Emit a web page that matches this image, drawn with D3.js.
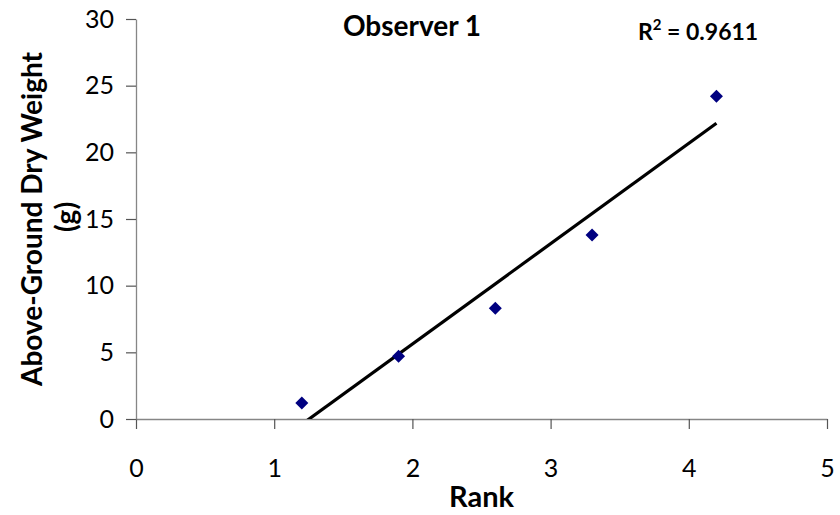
<!DOCTYPE html>
<html>
<head>
<meta charset="utf-8">
<script src="https://cdn.jsdelivr.net/npm/d3@7"></script>
<style>
  html, body { margin: 0; padding: 0; background: #fff; }
  svg { display: block; font-family: Lato, "Open Sans", sans-serif; }
</style>
</head>
<body>
<svg id="chart" width="840" height="515"></svg>
<script>
// Observer 1: rank assigned vs. measured above-ground dry weight
const rank = [1.2, 1.9, 2.6, 3.3, 4.2];
const dryWeight = [1.2, 4.7, 8.3, 13.8, 24.2];
const xTicks = [0, 1, 2, 3, 4, 5];
const yTicks = [0, 5, 10, 15, 20, 25, 30];
const rSquaredLabel = "0.9611";

const svg = d3.select("#chart");
const plot = { left: 136, right: 827, top: 19, bottom: 419 };

const x = d3.scaleLinear().domain([0, 5]).range([plot.left, plot.right]);
const y = d3.scaleLinear().domain([0, 30]).range([plot.bottom, plot.top]);

// Least-squares trendline through the observations
const mx = d3.mean(rank), my = d3.mean(dryWeight);
const sxy = d3.sum(rank, (v, i) => (v - mx) * (dryWeight[i] - my));
const sxx = d3.sum(rank, v => (v - mx) * (v - mx));
const slope = sxy / sxx;
const intercept = my - slope * mx;

// Axes
const xAxis = svg.append("g")
  .attr("transform", `translate(0,${plot.bottom})`)
  .call(d3.axisBottom(x).tickValues(xTicks).tickFormat(d3.format("d"))
    .tickSize(10).tickSizeOuter(0).tickPadding(29));
const yAxis = svg.append("g")
  .attr("transform", `translate(${plot.left},0)`)
  .call(d3.axisLeft(y).tickValues(yTicks).tickFormat(d3.format("d"))
    .tickSize(10).tickSizeOuter(0).tickPadding(12));

[xAxis, yAxis].forEach(g => {
  g.select(".domain").attr("stroke", "#868686").attr("stroke-width", 1.3);
  g.selectAll(".tick line").attr("stroke", "#555").attr("stroke-width", 1.2);
  g.selectAll(".tick text")
    .attr("fill", "#000")
    .style("font-family", "Lato, 'Open Sans', sans-serif")
    .style("font-size", "25px");
});
xAxis.selectAll(".tick text").attr("dy", "0em").attr("y", 477 - plot.bottom);

// Trendline, clipped to the plot area
svg.append("clipPath").attr("id", "plotClip")
  .append("rect")
  .attr("x", plot.left).attr("y", plot.top)
  .attr("width", plot.right - plot.left).attr("height", plot.bottom - plot.top);

const x0 = d3.min(rank), x1 = d3.max(rank);
svg.append("line")
  .attr("clip-path", "url(#plotClip)")
  .attr("x1", x(x0)).attr("y1", y(slope * x0 + intercept))
  .attr("x2", x(x1)).attr("y2", y(slope * x1 + intercept))
  .attr("stroke", "#000").attr("stroke-width", 3.2);

// Markers
const diamond = 6.5;
svg.append("g").selectAll("path")
  .data(rank.map((r, i) => [r, dryWeight[i]]))
  .join("path")
  .attr("transform", d => `translate(${x(d[0])},${y(d[1])})`)
  .attr("d", `M0,${-diamond}L${diamond},0L0,${diamond}L${-diamond},0Z`)
  .attr("fill", "#000080");

// Titles
svg.append("text")
  .attr("x", 412).attr("y", 36)
  .attr("text-anchor", "middle")
  .style("font-size", "28px").style("font-weight", "bold")
  .text("Observer 1");

const r2 = svg.append("text")
  .attr("x", 638).attr("y", 40)
  .style("font-size", "23px").style("font-weight", "bold");
r2.append("tspan").text("R");
r2.append("tspan").attr("dy", -10).style("font-size", "15px").text("2");
r2.append("tspan").attr("dy", 10).text(" = " + rSquaredLabel);

svg.append("text")
  .attr("x", (plot.left + plot.right) / 2).attr("y", 507)
  .attr("text-anchor", "middle")
  .style("font-size", "29px").style("font-weight", "bold")
  .text("Rank");

const yLabel = svg.append("text")
  .attr("transform", "translate(42,219) rotate(-90)")
  .attr("text-anchor", "middle")
  .style("font-size", "28px").style("font-weight", "bold");
yLabel.append("tspan").attr("x", 0).attr("y", 0).text("Above-Ground Dry Weight");
yLabel.append("tspan").attr("x", 2).attr("y", 34).text("(g)");
</script>
</body>
</html>
